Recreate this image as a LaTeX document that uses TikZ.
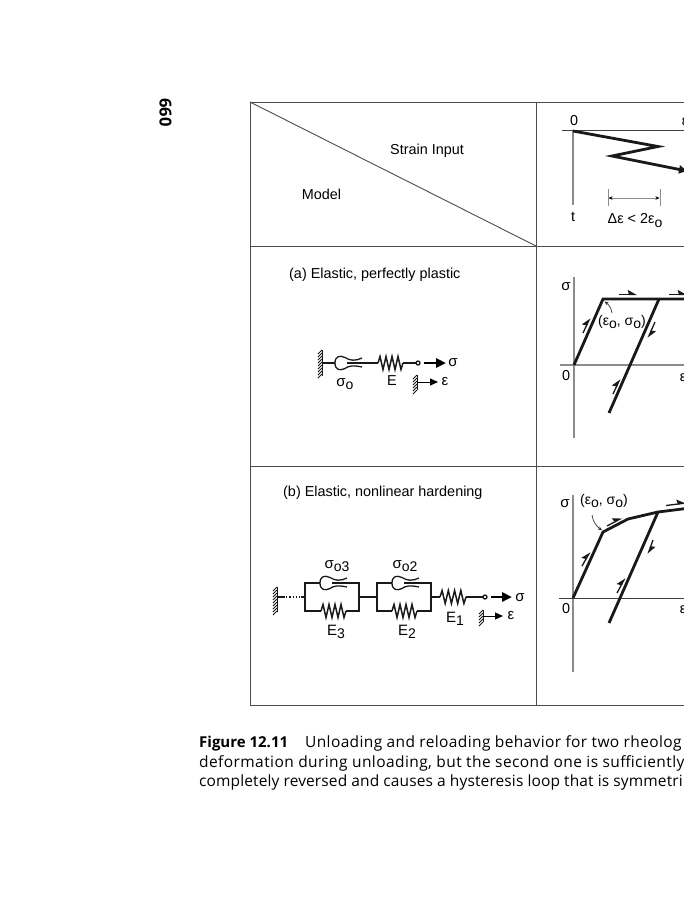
\documentclass[tikz,border=0pt]{standalone}
\usepackage{fontspec}
\setmainfont{Liberation Sans}
\newfontfamily\capfonta[LetterSpace=2.4]{Open Sans}
\newfontfamily\capfontb[LetterSpace=2.7]{Open Sans}
\newfontfamily\capfontc[LetterSpace=0.8]{Open Sans}
\newfontfamily\capboldfont{Open Sans}
\usetikzlibrary{arrows.meta,calc}
\definecolor{axisgray}{gray}{0.55}
\definecolor{rulegray}{gray}{0.3}
\tikzset{
  x=1pt,y=-1pt,
  tablerule/.style={draw=rulegray,line width=0.9pt},
  axisline/.style={draw=axisgray,line width=1.5pt},
  thinaxis/.style={draw=black!75,line width=0.9pt},
  curveline/.style={draw=black!90,line width=2.8pt,line join=miter},
  halfarrow/.style={draw=black!90,line width=1.3pt,-{Stealth[left,length=8pt,width=9pt,inset=1pt]}},
  modelline/.style={draw=black!90,line width=1.3pt},
  forcearrow/.style={draw=black,line width=2.8pt,-{Stealth[length=10pt,width=9pt,inset=0pt]}},
  strainarrow/.style={draw=black,line width=1pt,-{Stealth[length=8pt,width=7pt,inset=0pt]}},
  lbl/.style={inner sep=0pt,font=\fontsize{14.4}{16}\selectfont},
  sym/.style={inner sep=0pt,font=\fontsize{15}{16}\selectfont},
  pairlab/.style={inner sep=0pt,font=\fontsize{14}{15}\selectfont},
  captext/.style={inner sep=0pt,anchor=base west},
}
\newcommand{\subo}[1]{\raisebox{-3.5pt}{\fontsize{14}{14}\selectfont #1}}
\newcommand{\coilh}[3]{% x1 x2 y
  \draw[modelline,line width=1.5pt]
    (#1,#3) -- ($(#1,#3)!0.08!(#2,#3)+(0,-6.5)$)
    -- ($(#1,#3)!0.20!(#2,#3)+(0,6.5)$) -- ($(#1,#3)!0.32!(#2,#3)+(0,-6.5)$)
    -- ($(#1,#3)!0.44!(#2,#3)+(0,6.5)$) -- ($(#1,#3)!0.56!(#2,#3)+(0,-6.5)$)
    -- ($(#1,#3)!0.68!(#2,#3)+(0,6.5)$) -- ($(#1,#3)!0.80!(#2,#3)+(0,-6.5)$)
    -- ($(#1,#3)!0.92!(#2,#3)+(0,6.5)$) -- (#2,#3);}
\newcommand{\slider}[2]{% x y of bulb
  \draw[modelline]
    (#1,#2) .. controls (#1,#2-7) and (#1+5,#2-8) .. (#1+10,#2-5.5)
    .. controls (#1+15,#2-2) and (#1+21,#2-2) .. (#1+27,#2-5)
    (#1,#2) .. controls (#1,#2+7) and (#1+5,#2+8) .. (#1+10,#2+5.5)
    .. controls (#1+13,#2+3) and (#1+18,#2+2) .. (#1+27,#2+4);}
\newcommand{\wallv}[4]{% x y1 y2 tick spacing
  \draw[modelline,line width=0.9pt] (#1,#2) -- (#1,#3);
  \foreach \yy in {#2,#4,...,#3}{\draw[modelline,line width=0.8pt] (#1,\yy) -- (#1-4,\yy+4);}}
\begin{document}
\begin{tikzpicture}
\useasboundingbox (0,0) rectangle (684,900);
\clip (0,0) rectangle (684,900);
\fill[white] (0,0) rectangle (684,900);

% table
\coordinate (tl) at (250,102); \coordinate (tm) at (536,102); \coordinate (tr) at (690,102);
\coordinate (bl) at (250,705); \coordinate (bm) at (536,705); \coordinate (br) at (690,705);
\coordinate (r1l) at (250,246); \coordinate (r1m) at (536,246); \coordinate (r1r) at (690,246);
\coordinate (r2l) at (250,466); \coordinate (r2r) at (690,466);
\draw[tablerule] (tr) -- (tl) -- (bl) -- (br);
\draw[tablerule] (tm) -- (bm);
\draw[tablerule] (r1l) -- (r1r);
\draw[tablerule] (r2l) -- (r2r);
\draw[tablerule] (tl) -- (r1m);

\node[lbl] (strain) at (427,151) {Strain Input};
\node[lbl] (model) at (321.5,194) {Model};
\node[lbl,anchor=west] (rowa) at (289,275) {(a) Elastic, perfectly plastic};
\node[lbl,anchor=west] (rowb) at (283,493) {(b) Elastic, nonlinear hardening};

% strain input
\coordinate (s0) at (573,131); \coordinate (s1) at (658,146.5); \coordinate (s2) at (612,156); \coordinate (s3) at (687,171);
\draw[axisline,line width=1.2pt] (s0) -- (573,205);
\draw[thinaxis] (562,130.5) -- (690,130.5);
\draw[curveline,-{Stealth[length=8pt,width=8pt,inset=0pt]}] (s0) -- (s1) -- (s2) -- (s3);
\node[lbl] (s00) at (574,121) {0};
\node[lbl] (seps) at (685,122) {ε};
\node[lbl] (st) at (573,217) {t};
\draw[draw=axisgray,line width=0.8pt] (608,189) -- (608,206) (660,189) -- (660,206);
\draw[draw=axisgray,line width=1pt,{Stealth[length=4pt,width=3.5pt,black]}-{Stealth[length=4pt,width=3.5pt,black]}] (608.5,198) -- (659.5,198);
\node[lbl] (dl) at (635,220.5) {Δε < 2ε\subo{o}};

% model (a)
\wallv{322}{350}{376}{353}
\coordinate (a1) at (322,363); \coordinate (a2) at (335,363);
\draw[modelline] (a1) -- (a2);
\slider{335}{363}
\draw[modelline] (347,363) -- (378,363);
\coilh{378}{403}{363}
\draw[modelline] (403,363) -- (416,363);
\draw[modelline,fill=white] (418,363) circle (2);
\draw[forcearrow] (424,363) -- (446,363);
\node[sym] (as) at (453,363) {σ};
\node[sym] (aso) at (345,384) {σ\subo{o}};
\node[lbl] (ae) at (392,380.5) {E};
\wallv{417}{375}{390}{378}
\draw[strainarrow] (417,382) -- (438,382);
\node[sym] (aeps) at (445,382) {ε};

% model (b)
\wallv{277}{587}{612}{590}
\draw[modelline] (277,597) -- (285,597);
\draw[modelline,dotted,line width=1.3pt] (286,597) -- (300,597);
\draw[modelline] (301,597) -- (305,597);
\draw[modelline] (320,583) -- (305,583) -- (305,611) -- (321,611);
\draw[modelline] (346,611) -- (359,611) -- (359,583) -- (332,583);
\slider{320}{583}
\coilh{321}{346}{611}
\draw[modelline] (359,597) -- (377,597);
\draw[modelline] (392,583) -- (377,583) -- (377,611) -- (392,611);
\draw[modelline] (417,611) -- (431,611) -- (431,583) -- (404,583);
\slider{392}{583}
\coilh{392}{417}{611}
\draw[modelline] (431,597) -- (440,597);
\coilh{440}{466}{597}
\draw[modelline] (466,597) -- (483,597);
\draw[modelline,fill=white] (485,597) circle (2);
\draw[forcearrow] (491,597) -- (512,597);
\node[sym] (bs) at (520,598) {σ};
\wallv{483}{610}{622}{613}
\draw[strainarrow] (483,616) -- (503,616);
\node[sym] (beps) at (511,616) {ε};
\node[sym] (bo3) at (337,566) {σ\subo{o3}};
\node[sym] (bo2) at (405,566) {σ\subo{o2}};
\node[sym] (be3) at (336,632) {E\subo{3}};
\node[sym] (be2) at (407,632) {E\subo{2}};
\node[sym] (be1) at (455,619) {E\subo{1}};

% sigma-epsilon (a)
\coordinate (p0) at (574,365); \coordinate (p1) at (603,299); \coordinate (p2) at (690,299);
\coordinate (p3) at (659,299); \coordinate (p4) at (609,413);
\draw[axisline] (574,277) -- (574,438);
\draw[axisline] (560,365) -- (690,365);
\draw[curveline] (p0) -- (p1) -- (p2);
\draw[curveline] (p3) -- (p4);
\node[sym] (psig) at (566,287) {σ};
\node[lbl] (p00) at (566,376) {0};
\node[lbl] (peps) at (683,378) {ε};
\draw[halfarrow] (583,333) -- (590,318);
\draw[halfarrow] (619,294.5) -- (637,294.5);
\draw[halfarrow] (669,294.5) -- (687,294.5);
\draw[halfarrow] (655,322) -- (648,338);
\draw[halfarrow] (613,394) -- (620,379);
\node[pairlab] (plab) at (622,322) {(ε\subo{o}, σ\subo{o})};
\draw[draw=black!80,line width=0.7pt,-{Stealth[length=4pt,width=3.5pt]}] (612,313) .. controls (611,307) and (608,304) .. (604.5,301.5);

% sigma-epsilon (b)
\coordinate (q0) at (573,598); \coordinate (q1) at (603,532); \coordinate (q2) at (628,519);
\coordinate (q3) at (658,512); \coordinate (q4) at (690,508); \coordinate (q5) at (609,623);
\draw[axisline] (573,495) -- (573,672);
\draw[thinaxis] (559,598) -- (690,598);
\draw[curveline] (q0) -- (q1) -- (q2) -- (q3) -- (q4);
\draw[curveline] (q3) -- (q5);
\node[sym] (qsig) at (565,504) {σ};
\node[lbl] (q00) at (566,609) {0};
\node[lbl] (qeps) at (683,610) {ε};
\draw[halfarrow] (582,566) -- (590,552);
\draw[halfarrow] (607,526) -- (622,518);
\draw[halfarrow] (666,505.5) -- (686,503);
\draw[halfarrow] (653,540) -- (648,554);
\draw[halfarrow] (617,593) -- (625,578);
\node[pairlab] (qlab) at (604,501) {(ε\subo{o}, σ\subo{o})};
\draw[draw=black!80,line width=0.7pt,-{Stealth[length=4pt,width=3.5pt]}] (592,515) .. controls (593,522) and (597,527) .. (602,530);

% page number
\node[inner sep=0pt,rotate=-90,font=\capboldfont\bfseries\fontsize{16.5}{16}\selectfont] (page) at (165.5,112.5) {660};

% caption
\node[captext,font=\capfonta\fontsize{15.5}{17}\selectfont] (c1) at (199,747) {\makebox[106pt][l]{\capboldfont\bfseries\fontsize{15}{17}\selectfont Figure 12.11}Unloading and reloading behavior for two rheolog};
\node[captext,font=\capfontb\fontsize{15.5}{17}\selectfont] (c2) at (199,767) {deformation during unloading, but the second one is sufficiently};
\node[captext,font=\capfontc\fontsize{15.5}{17}\selectfont] (c3) at (199,786) {completely reversed and causes a hysteresis loop that is symmetri};
\end{tikzpicture}
\end{document}
